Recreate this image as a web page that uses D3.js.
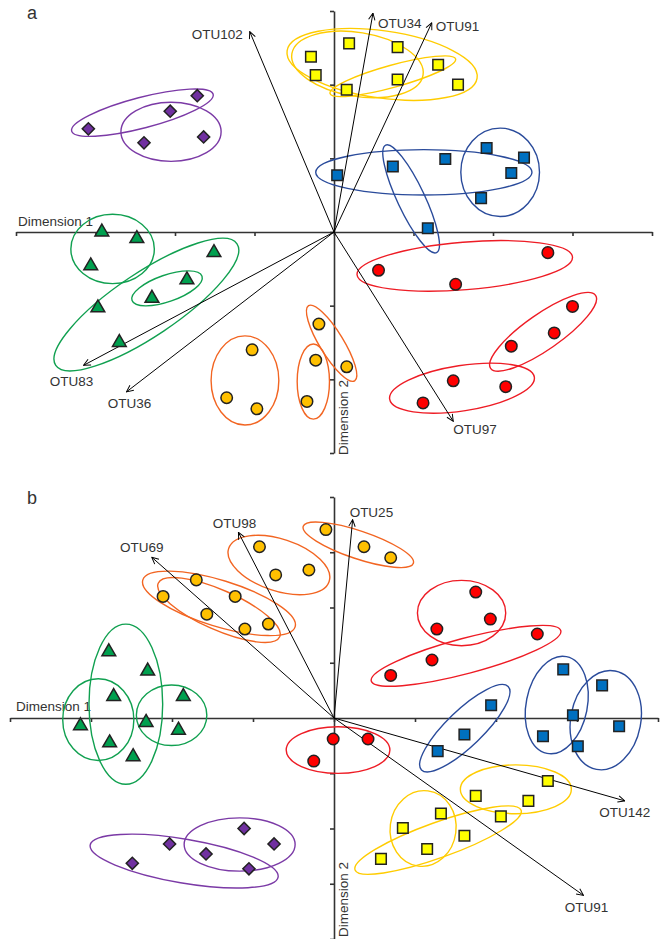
<!DOCTYPE html>
<html>
<head>
<meta charset="utf-8">
<script src="https://cdn.jsdelivr.net/npm/d3@7/dist/d3.min.js"></script>
<style>
  html, body { margin: 0; padding: 0; background: #fff; }
  svg { display: block; font-family: "Liberation Sans", Arial, sans-serif; }
</style>
</head>
<body>
<svg id="chart" width="665" height="939"></svg>
<script>
// ---------- Panel a: sample scores (Dimension 1, Dimension 2) ----------
const aPurplePts = [[-3.09, 1.40], [-2.06, 1.64], [-1.72, 1.85], [-2.39, 1.21], [-1.64, 1.29]];
const aYellowPts = [[-0.29, 2.38], [-0.23, 2.13], [0.19, 2.56], [0.80, 2.51], [1.31, 2.27], [0.80, 2.07], [0.16, 1.93], [1.56, 2.00]];
const aBluePts   = [[0.04, 0.77], [0.74, 0.89], [1.40, 0.99], [1.92, 1.14], [2.39, 1.01], [2.23, 0.80], [1.85, 0.46], [1.18, 0.05]];
const aRedPts    = [[0.56, -0.52], [1.53, -0.71], [2.69, -0.28], [3.00, -1.01], [2.77, -1.37], [2.23, -1.55], [1.50, -2.02], [2.16, -2.10], [1.12, -2.32]];
const aGreenPts  = [[-2.92, 0.00], [-2.48, -0.09], [-3.06, -0.46], [-1.51, -0.28], [-1.85, -0.65], [-2.29, -0.90], [-2.97, -1.03], [-2.70, -1.50]];
const aOrangePts = [[-1.03, -1.60], [-1.35, -2.25], [-0.97, -2.40], [-0.19, -1.25], [-0.23, -1.74], [-0.34, -2.30], [0.16, -1.83]];

// Group ellipses: major-axis end points (x1, y1, x2, y2) and minor/major ratio
const aPurpleEll = [[-3.30, 1.37, -1.52, 1.87, 0.21], [-2.68, 1.36, -1.42, 1.36, 0.59]];
const aYellowEll = [[-0.59, 2.46, 1.80, 2.09, 0.35], [-0.53, 2.42, 1.12, 2.13, 0.48], [-0.05, 1.88, 1.53, 2.35, 0.17]];
const aBlueEll   = [[-0.23, 0.81, 2.49, 0.81, 0.21], [0.65, 1.18, 1.29, -0.28, 0.23], [2.09, 1.41, 2.09, 0.21, 0.89]];
const aRedEll    = [[0.29, -0.58, 3.00, -0.34, 0.22], [1.97, -1.85, 3.29, -0.86, 0.28], [0.70, -2.27, 2.52, -1.97, 0.31]];
const aGreenEll  = [[-3.31, -0.23, -2.26, -0.23, 0.83], [-3.50, -1.81, -1.22, -0.16, 0.29], [-2.54, -0.93, -1.66, -0.60, 0.36]];
const aOrangeEll = [[-1.12, -1.41, -1.12, -2.62, 0.76], [-0.26, -1.52, -0.26, -2.54, 0.43], [-0.32, -1.00, 0.26, -2.02, 0.27]];

// OTU loading vectors
const aVectors = [["OTU102", -1.06, 2.72], ["OTU34", 0.49, 2.97], ["OTU91", 1.23, 2.84],
                  ["OTU83", -3.15, -1.81], ["OTU36", -2.61, -2.17], ["OTU97", 1.50, -2.57]];
const aXTicks = [-4, -3, -2, -1, 0, 1, 2, 3, 4];
const aYTicks = [-3, -2, -1, 0, 1, 2, 3];

// ---------- Panel b ----------
const bOrangePts = [[-0.10, 3.41], [0.37, 3.10], [0.70, 2.90], [-0.92, 3.10], [-0.72, 2.59], [-0.31, 2.68],
                    [-1.70, 2.50], [-2.11, 2.20], [-1.22, 2.20], [-1.57, 1.88], [-0.81, 1.70], [-1.10, 1.61]];
const bRedPts    = [[1.75, 2.28], [1.93, 1.79], [1.27, 1.61], [2.51, 1.52], [1.21, 1.05], [0.70, 0.77],
                    [-0.01, -0.38], [-0.25, -0.78], [0.42, -0.38]];
const bGreenPts  = [[-2.78, 1.20], [-2.30, 0.85], [-2.72, 0.39], [-1.86, 0.39], [-3.13, -0.14], [-2.32, -0.08],
                    [-1.92, -0.22], [-2.77, -0.45], [-2.48, -0.70]];
const bPurplePts = [[-2.49, -2.63], [-2.03, -2.28], [-1.58, -2.46], [-1.11, -2.00], [-0.74, -2.28], [-1.05, -2.73]];
const bBluePts   = [[1.94, 0.23], [1.61, -0.30], [1.28, -0.60], [2.83, 0.88], [3.31, 0.59], [2.95, 0.05],
                    [3.52, -0.15], [2.58, -0.33], [3.01, -0.51]];
const bYellowPts = [[2.64, -1.14], [1.75, -1.41], [2.40, -1.50], [2.06, -1.78], [1.32, -1.73], [0.85, -1.99],
                    [1.61, -2.13], [1.15, -2.37], [0.58, -2.55]];

const bOrangeEll = [[-0.38, 3.47, 0.98, 2.80, 0.24], [-1.30, 3.07, -0.06, 2.47, 0.49],
                    [-2.36, 2.50, -0.48, 1.65, 0.29], [-2.17, 2.44, -0.67, 1.47, 0.30]];
const bRedEll    = [[1.03, 1.90, 2.12, 1.90, 0.74], [0.46, 0.67, 2.80, 1.58, 0.18], [-0.59, -0.58, 0.69, -0.58, 0.45]];
const bGreenEll  = [[-2.57, 1.70, -2.57, -1.20, 0.46], [-2.91, 0.71, -2.91, -0.77, 0.87], [-2.44, 0.05, -1.57, 0.05, 0.86]];
const bPurpleEll = [[-3.01, -2.30, -0.69, -2.88, 0.23], [-1.85, -2.29, -0.48, -2.29, 0.48]];
const bBlueEll   = [[1.08, -0.94, 2.15, 0.57, 0.30], [2.87, 1.11, 2.63, -0.64, 0.62], [3.47, 0.85, 3.24, -0.93, 0.70]];
const bYellowEll = [[1.56, -1.29, 2.93, -1.29, 0.44], [1.16, -1.32, 1.04, -2.68, 0.87], [0.26, -2.75, 2.31, -1.67, 0.20]];

const bVectors = [["OTU69", -2.25, 2.91], ["OTU98", -1.18, 3.36], ["OTU25", 0.23, 3.59],
                  ["OTU142", 3.59, -1.50], ["OTU91", 3.08, -3.21]];
const bXTicks = [-4, -3, -2, -1, 0, 1, 2, 3, 4];
const bYTicks = [-4, -3, -2, -1, 0, 1, 2, 3, 4];

const axisTitles = ["Dimension 1", "Dimension 2"];
const panelTags = ["a", "b"];

// ---------- styling ----------
const GROUP_STYLE = {
  purple: { shape: "diamond",  fill: "#7030A0", ring: "#7B3AA6" },
  yellow: { shape: "square",   fill: "#FFFF00", ring: "#FFCC00" },
  blue:   { shape: "square",   fill: "#0070C0", ring: "#2A4B9B" },
  red:    { shape: "circle",   fill: "#FF0000", ring: "#EE1C25" },
  green:  { shape: "triangle", fill: "#00A04F", ring: "#10A050" },
  orange: { shape: "circle",   fill: "#FFC000", ring: "#F26522" }
};
const SYMBOL = {
  square:   d3.symbol().type(d3.symbolSquare).size(112)(),
  circle:   d3.symbol().type(d3.symbolCircle).size(104)(),
  triangle: d3.symbol().type(d3.symbolTriangle).size(82)(),
  diamond:  d3.symbol().type(d3.symbolSquare).size(74)()
};
const TEXT_COLOR = "#333";

const svg = d3.select("#chart");
svg.append("rect").attr("width", 665).attr("height", 939).attr("fill", "#fff");

// open "V" arrowhead for loading vectors
svg.append("defs").append("marker")
  .attr("id", "vhead")
  .attr("viewBox", "0 0 10 10")
  .attr("refX", 9.5).attr("refY", 5)
  .attr("markerUnits", "userSpaceOnUse")
  .attr("markerWidth", 8).attr("markerHeight", 8)
  .attr("orient", "auto")
  .append("path")
  .attr("d", "M1,1 L9.5,5 L1,9")
  .attr("fill", "none").attr("stroke", "#000").attr("stroke-width", 1.2);

function drawPanel(cfg) {
  const { x, y } = cfg;
  const g = svg.append("g");

  // axes through the origin
  g.append("g")
    .attr("transform", `translate(0,${y(0)})`)
    .call(d3.axisBottom(x).tickValues(cfg.xTicks).tickSize(4).tickSizeOuter(0).tickFormat(""))
    .call(s => s.selectAll("path,line").attr("stroke", "#333").attr("stroke-width", 1.6));
  g.append("g")
    .attr("transform", `translate(${x(0)},0)`)
    .call(d3.axisLeft(y).tickValues(cfg.yTicks).tickSize(4).tickSizeOuter(0).tickFormat(""))
    .call(s => s.selectAll("path,line").attr("stroke", "#333").attr("stroke-width", 1.6));

  // axis titles
  g.append("text")
    .attr("x", cfg.dim1At[0]).attr("y", cfg.dim1At[1])
    .attr("font-size", 13.5).attr("fill", TEXT_COLOR)
    .text(axisTitles[0]);
  g.append("text")
    .attr("transform", `translate(${x(0) + 14},${cfg.dim2Base}) rotate(-90)`)
    .attr("font-size", 13.5).attr("fill", TEXT_COLOR)
    .text(axisTitles[1]);

  // panel tag
  g.append("text")
    .attr("x", 27).attr("y", cfg.tagY)
    .attr("font-size", 18).attr("fill", TEXT_COLOR)
    .text(cfg.tag);

  // group ellipses
  cfg.groups.forEach(grp => {
    const st = GROUP_STYLE[grp.color];
    g.append("g").selectAll("ellipse")
      .data(grp.ell)
      .join("ellipse")
      .each(function (e) {
        const p1 = [x(e[0]), y(e[1])], p2 = [x(e[2]), y(e[3])];
        const cx = (p1[0] + p2[0]) / 2, cy = (p1[1] + p2[1]) / 2;
        const a = Math.hypot(p2[0] - p1[0], p2[1] - p1[1]) / 2;
        const ang = Math.atan2(p2[1] - p1[1], p2[0] - p1[0]) * 180 / Math.PI;
        d3.select(this)
          .attr("rx", a).attr("ry", a * e[4])
          .attr("transform", `translate(${cx},${cy}) rotate(${ang})`);
      })
      .attr("fill", "none")
      .attr("stroke", st.ring)
      .attr("stroke-width", 1.4);
  });

  // loading vectors
  const vg = g.append("g");
  vg.selectAll("line")
    .data(cfg.vectors)
    .join("line")
    .attr("x1", x(0)).attr("y1", y(0))
    .attr("x2", d => x(d[1])).attr("y2", d => y(d[2]))
    .attr("stroke", "#000").attr("stroke-width", 1)
    .attr("marker-end", "url(#vhead)");
  vg.selectAll("text")
    .data(cfg.vectors)
    .join("text")
    .attr("x", d => x(d[1]) + cfg.labelPlace[d[0]][0])
    .attr("y", d => y(d[2]) + cfg.labelPlace[d[0]][1])
    .attr("text-anchor", d => cfg.labelPlace[d[0]][2])
    .attr("font-size", 13.5).attr("fill", TEXT_COLOR)
    .text(d => d[0]);

  // sample markers
  cfg.groups.forEach(grp => {
    const st = GROUP_STYLE[grp.color];
    g.append("g").selectAll("path")
      .data(grp.pts)
      .join("path")
      .attr("d", SYMBOL[st.shape])
      .attr("transform", d => `translate(${x(d[0])},${y(d[1])})` + (st.shape === "diamond" ? " rotate(45)" : ""))
      .attr("fill", st.fill)
      .attr("stroke", "#222")
      .attr("stroke-width", 1.5);
  });
}

drawPanel({
  tag: panelTags[0], tagY: 19,
  x: d3.scaleLinear().domain([-4, 4]).range([16, 652]),
  y: d3.scaleLinear().domain([3, -3]).range([11, 453]),
  xTicks: aXTicks, yTicks: aYTicks,
  dim1At: [18, 226], dim2Base: 455,
  vectors: aVectors,
  labelPlace: {
    OTU102: [-7, 7, "end"], OTU34: [5, 15, "start"], OTU91: [4, 8, "start"],
    OTU83: [-12, 21, "middle"], OTU36: [3, 16, "middle"], OTU97: [0, 13, "start"]
  },
  groups: [
    { color: "purple", pts: aPurplePts, ell: aPurpleEll },
    { color: "yellow", pts: aYellowPts, ell: aYellowEll },
    { color: "blue",   pts: aBluePts,   ell: aBlueEll },
    { color: "red",    pts: aRedPts,    ell: aRedEll },
    { color: "green",  pts: aGreenPts,  ell: aGreenEll },
    { color: "orange", pts: aOrangePts, ell: aOrangeEll }
  ]
});

drawPanel({
  tag: panelTags[1], tagY: 504,
  x: d3.scaleLinear().domain([-4, 4]).range([10, 658]),
  y: d3.scaleLinear().domain([4, -4]).range([497, 939]),
  xTicks: bXTicks, yTicks: bYTicks,
  dim1At: [16, 711], dim2Base: 937,
  vectors: bVectors,
  labelPlace: {
    OTU69: [-10, -5, "middle"], OTU98: [-4, -4, "middle"], OTU25: [-3, -3, "start"],
    OTU142: [0, 16, "middle"], OTU91: [3, 17, "middle"]
  },
  groups: [
    { color: "orange", pts: bOrangePts, ell: bOrangeEll },
    { color: "red",    pts: bRedPts,    ell: bRedEll },
    { color: "green",  pts: bGreenPts,  ell: bGreenEll },
    { color: "purple", pts: bPurplePts, ell: bPurpleEll },
    { color: "blue",   pts: bBluePts,   ell: bBlueEll },
    { color: "yellow", pts: bYellowPts, ell: bYellowEll }
  ]
});
</script>
</body>
</html>
